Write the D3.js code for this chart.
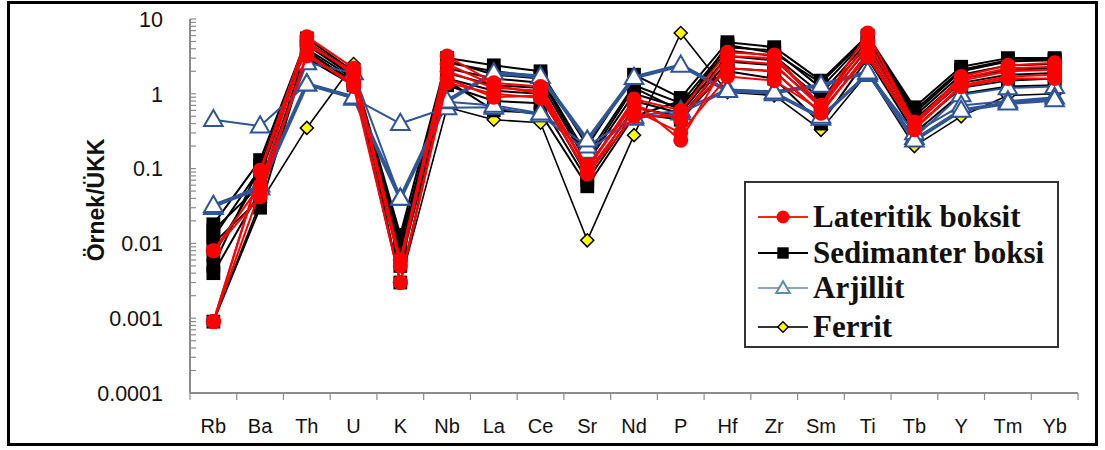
<!DOCTYPE html>
<html><head><meta charset="utf-8">
<script src="https://cdn.jsdelivr.net/npm/d3@7"></script>
<style>body{margin:0;background:#fff}svg{display:block}</style>
</head><body><svg id="c" width="1105" height="450"></svg>
<script>
const elements = ["Rb","Ba","Th","U","K","Nb","La","Ce","Sr","Nd","P","Hf","Zr","Sm","Ti","Tb","Y","Tm","Yb"];
const yTicks = [10,1,0.1,0.01,0.001,0.0001];
const yTickLabels = ["10","1","0.1","0.01","0.001","0.0001"];
const seriesNames = ["Lateritik boksit","Sedimanter boksi","Arjillit","Ferrit"];

const lateritik = [
 [0.0009,0.095,5.8,2.2,0.006,3.2,1.4,1.25,0.1,0.85,0.6,3.6,3.3,0.7,6.5,0.4,1.7,2.4,2.6],
 [0.008,0.042,3.5,1.25,0.003,1.4,1.0,0.88,0.09,0.6,0.3,1.7,1.5,0.6,3.1,0.35,1.24,1.6,1.6],
 [0.0009,0.09,4.5,2.0,0.006,2.0,1.2,1.1,0.1,0.78,0.24,2.8,2.5,0.65,4.2,0.38,1.5,2.0,2.1],
 [0.008,0.06,5.0,1.8,0.005,2.5,1.3,1.0,0.11,0.7,0.45,3.2,3.0,0.7,5.0,0.42,1.6,2.2,2.3],
 [0.0009,0.05,3.2,1.4,0.003,1.6,0.9,0.95,0.085,0.5,0.5,2.2,2.0,0.55,3.5,0.33,1.3,1.7,1.8]
];
const sedimanter = [
 [0.018,0.13,5.5,2.0,0.013,3.0,2.4,2.0,0.2,1.8,0.88,4.9,4.2,1.5,6.0,0.66,2.3,3.0,3.0],
 [0.012,0.1,5.0,1.9,0.01,2.6,2.0,1.7,0.15,1.3,0.75,4.2,3.8,1.2,5.5,0.55,2.0,2.7,2.8],
 [0.007,0.08,4.5,1.7,0.008,2.2,1.6,1.4,0.12,1.0,0.65,3.8,3.2,1.0,5.0,0.5,1.8,2.4,2.5],
 [0.004,0.05,4.0,1.6,0.006,1.9,1.3,1.2,0.1,0.8,0.55,3.2,2.8,0.85,4.5,0.45,1.6,2.1,2.2],
 [0.0009,0.03,3.5,1.5,0.003,1.6,1.1,1.0,0.08,0.65,0.5,2.7,2.4,0.7,4.0,0.4,1.4,1.8,1.9],
 [0.015,0.06,3.0,1.3,0.012,1.3,0.8,0.75,0.07,0.55,0.45,2.2,2.0,0.55,3.5,0.35,1.2,1.5,1.6],
 [0.005,0.11,4.8,1.8,0.005,1.5,0.6,0.55,0.058,0.5,0.8,2.0,1.6,0.4,3.0,0.3,1.0,1.25,1.3],
 [0.01,0.04,3.8,1.4,0.007,2.8,1.8,1.6,0.13,1.2,0.6,4.5,3.5,1.4,5.8,0.6,2.1,2.8,2.9]
];
const arjillit = [
 [0.45,0.37,1.35,0.87,0.4,0.65,0.66,0.52,0.17,0.47,0.55,1.1,1.0,0.47,1.8,0.26,0.97,1.2,1.25],
 [0.03,0.06,2.6,1.9,0.04,0.78,0.7,0.55,0.2,0.5,0.6,1.15,1.05,0.5,1.9,0.3,0.7,0.8,0.9],
 [0.032,0.055,1.35,0.9,0.04,0.8,1.9,1.7,0.24,1.65,2.4,1.1,1.05,1.3,1.95,0.24,0.6,0.75,0.83]
];
const arjillitWidths = [2,2,4];
const ferrit = [
 [0.0009,0.035,0.35,2.5,0.003,0.66,0.45,0.41,0.011,0.28,6.5,1.05,0.95,0.33,1.9,0.2,0.5,0.95,1.0]
];

const svg = d3.select("#c");
const x = d3.scaleBand().domain(elements).range([190,1078]);
const y = d3.scaleLog().domain([0.0001,10]).range([393,19]);
const cx = d => x(d) + x.bandwidth()/2;

// outer border
svg.append("rect").attr("x",8.5).attr("y",2.5).attr("width",1088).attr("height",442)
  .attr("fill","none").attr("stroke","#000").attr("stroke-width",3);

const axisCol = "#8c8c8c";
// y axis
const minor = [];
for (let e=-4;e<1;e++) for (let m=1;m<10;m++) minor.push(m*Math.pow(10,e));
minor.push(10);
svg.append("g").selectAll("line").data(minor).join("line")
  .attr("x1",190).attr("x2",196).attr("y1",d=>y(d)).attr("y2",d=>y(d))
  .attr("stroke",axisCol).attr("stroke-width",1.2);
svg.append("line").attr("x1",190).attr("x2",190).attr("y1",y(10)).attr("y2",y(0.0001))
  .attr("stroke",axisCol).attr("stroke-width",2);
svg.append("g").selectAll("text").data(yTicks).join("text")
  .attr("x",163).attr("y",d=>y(d)).attr("dy","0.36em").attr("text-anchor","end")
  .attr("font-family","Liberation Sans, Arial, sans-serif").attr("font-size",21.5)
  .attr("fill","#111").text((d,i)=>yTickLabels[i]);
svg.append("text").attr("transform","translate(104,200) rotate(-90)")
  .attr("text-anchor","middle").attr("font-family","Liberation Sans, Arial, sans-serif")
  .attr("font-weight","bold").attr("font-size",23).attr("fill","#111").text("Örnek/ÜKK");

// x axis
svg.append("line").attr("x1",190).attr("x2",1078).attr("y1",393).attr("y2",393)
  .attr("stroke",axisCol).attr("stroke-width",2);
const bounds = elements.map(d=>x(d)).concat([x.range()[1]]);
svg.append("g").selectAll("line").data(bounds).join("line")
  .attr("x1",d=>d).attr("x2",d=>d).attr("y1",393).attr("y2",400)
  .attr("stroke",axisCol).attr("stroke-width",1.2);
svg.append("g").selectAll("text").data(elements).join("text")
  .attr("x",d=>cx(d)).attr("y",426).attr("dy","0.36em").attr("text-anchor","middle")
  .attr("font-family","Liberation Sans, Arial, sans-serif").attr("font-size",20)
  .attr("fill","#111").text(d=>d);

const line = d3.line().x((v,i)=>cx(elements[i])).y(v=>y(v));
const plot = svg.append("g");
const blue = "#2f5597";

function drawSeries(data, color, widths, marker){
  const g = plot.append("g");
  data.forEach((row,k)=>{
    g.append("path").attr("d",line(row)).attr("fill","none").attr("stroke",color)
     .attr("stroke-width",Array.isArray(widths)?widths[k]:widths).attr("stroke-linejoin","round");
  });
  data.forEach(row=>{
    row.forEach((v,i)=>marker(g, cx(elements[i]), y(v)));
  });
}
const sym = (type,size)=>d3.symbol().type(type).size(size)();
const mkDiamond = (g,px,py,s=110)=> g.append("path").attr("d",sym(d3.symbolSquare, s))
   .attr("transform",`translate(${px},${py}) rotate(45)`).attr("fill","#ffff00").attr("stroke","#000").attr("stroke-width",1.5);
const mkSquare = (g,px,py,s=190)=> g.append("path").attr("d",sym(d3.symbolSquare,s))
   .attr("transform",`translate(${px},${py})`).attr("fill","#000");
const mkTri = (g,px,py,s=150,c=blue)=> g.append("path").attr("d",sym(d3.symbolTriangle,s))
   .attr("transform",`translate(${px},${py+1})`).attr("fill","#fff").attr("stroke",c).attr("stroke-width",2);
const mkCircle = (g,px,py,r=7.5)=> g.append("circle").attr("cx",px).attr("cy",py).attr("r",r).attr("fill","#ff0000");

drawSeries(ferrit,"#000",1.6,(g,a,b)=>mkDiamond(g,a,b,85));
drawSeries(sedimanter,"#000",2,(g,a,b)=>mkSquare(g,a,b));
drawSeries(arjillit,blue,arjillitWidths,(g,a,b)=>mkTri(g,a,b));
drawSeries(lateritik,"#ff0000",2,(g,a,b)=>mkCircle(g,a,b));

// legend
const lg = svg.append("g");
lg.append("rect").attr("x",745).attr("y",182).attr("width",313).attr("height",165)
  .attr("fill","#fff").attr("stroke","#333").attr("stroke-width",2);
const legY = [217,253,288,327];
const legLine = ["#ff2020","#000","#8aa6c4","#333"];
seriesNames.forEach((n,i)=>{
  lg.append("line").attr("x1",758).attr("x2",808).attr("y1",legY[i]).attr("y2",legY[i])
    .attr("stroke",legLine[i]).attr("stroke-width",2);
  if(i===0) mkCircle(lg,783,legY[i],6.5);
  if(i===1) mkSquare(lg,783,legY[i],130);
  if(i===2) mkTri(lg,783,legY[i],80,"#5b8fa8");
  if(i===3) mkDiamond(lg,783,legY[i],55);
  lg.append("text").attr("x",813).attr("y",legY[i]).attr("dy","0.33em")
    .attr("font-family","Liberation Serif, Times New Roman, serif").attr("font-weight","bold")
    .attr("font-size",31).attr("fill","#111").text(n);
});
</script></body></html>
